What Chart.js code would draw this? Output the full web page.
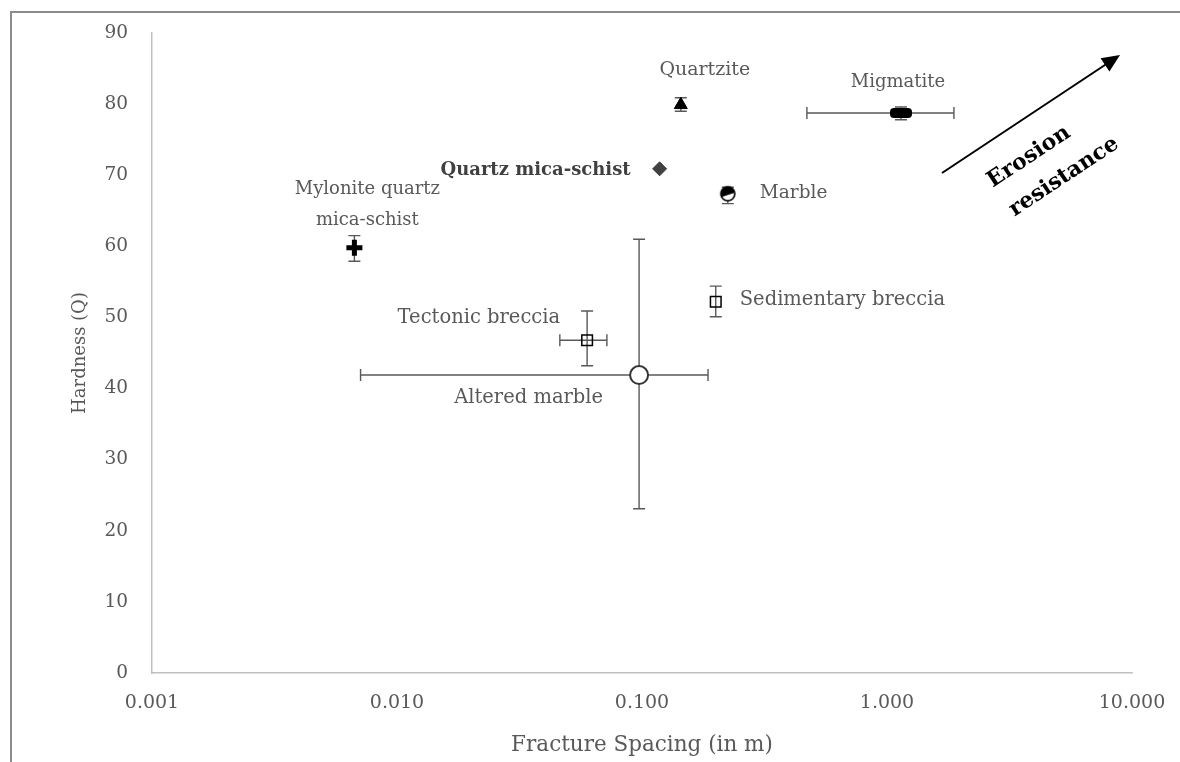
<!DOCTYPE html>
<html>
<head>
<meta charset="utf-8">
<script src="https://cdn.jsdelivr.net/npm/chart.js@4.4.1/dist/chart.umd.min.js"></script>
<style>
  html, body { margin: 0; padding: 0; background: #fff; }
  #wrap { position: relative; width: 1180px; height: 762px; overflow: hidden; }
  #frame { position: absolute; left: 10px; top: 11px; right: -5px; bottom: -5px;
           border-left: 2px solid #8c8c8c; border-top: 2px solid #8c8c8c; }
  canvas { position: absolute; left: 0; top: 0; }
</style>
</head>
<body>
<div id="wrap">
  <div id="frame"></div>
  <canvas id="rockChart" width="1180" height="762"></canvas>
</div>
<script>
// Rock types: fracture spacing (m) vs hardness (Q)
const rockLabels = [
  "Mylonite quartz\nmica-schist",
  "Quartz mica-schist",
  "Quartzite",
  "Migmatite",
  "Marble",
  "Sedimentary breccia",
  "Tectonic breccia",
  "Altered marble"
];
const spacing    = [0.0067, 0.118, 0.144, 1.14, 0.224, 0.200, 0.0597, 0.0973];
const spacingMin = [null,   null,  null,  0.471, null, null,  0.0462, 0.0071];
const spacingMax = [null,   null,  null,  1.876, null, null,  0.0719, 0.186];
const hardness    = [59.8, 70.9, 79.9, 78.75, 67.4, 52.2, 46.8, 41.9];
const hardnessMin = [57.9, null, 79.0, 77.8,  66.0, 50.1, 43.2, 23.1];
const hardnessMax = [61.5, null, 80.9, 79.6,  68.3, 54.4, 50.9, 61.0];
const xTicks = [0.001, 0.01, 0.1, 1, 10];

const FONT = "'DejaVu Serif', serif";
const GREY = "#595959";

// half-filled circle used for marble
const marbleIcon = document.createElement("canvas");
marbleIcon.width = 18; marbleIcon.height = 18;
(() => {
  const c = marbleIcon.getContext("2d");
  c.beginPath(); c.arc(9, 9, 7, 0, Math.PI * 2);
  c.fillStyle = "#fff"; c.fill();
  c.beginPath(); c.arc(9, 9, 7, Math.PI * 0.85, Math.PI * 1.95);
  c.closePath(); c.fillStyle = "#000"; c.fill();
  c.beginPath(); c.arc(9, 9, 7, 0, Math.PI * 2);
  c.lineWidth = 1.6; c.strokeStyle = "#000"; c.stroke();
})();

// rounded bar used for migmatite
const migmatiteIcon = document.createElement("canvas");
migmatiteIcon.width = 24; migmatiteIcon.height = 12;
(() => {
  const c = migmatiteIcon.getContext("2d");
  c.beginPath(); c.roundRect(1, 1, 22, 10, 4);
  c.fillStyle = "#000"; c.fill();
})();

const markerStyles = [
  { pointStyle: "cross", radius: 8, borderWidth: 5, borderColor: "#000", backgroundColor: "#000" },
  { pointStyle: "rectRot", radius: 7, borderWidth: 1, borderColor: "#404040", backgroundColor: "#404040" },
  { pointStyle: "triangle", radius: 7.5, borderWidth: 1, borderColor: "#000", backgroundColor: "#000" },
  { pointStyle: migmatiteIcon, radius: 10, borderWidth: 0, borderColor: "#000", backgroundColor: "#000" },
  { pointStyle: marbleIcon, radius: 9, borderWidth: 0, borderColor: "#000", backgroundColor: "#000" },
  { pointStyle: "rect", radius: 7.5, borderWidth: 1.5, borderColor: "#000", backgroundColor: "rgba(0,0,0,0)" },
  { pointStyle: "rect", radius: 7.5, borderWidth: 1.5, borderColor: "#000", backgroundColor: "rgba(0,0,0,0)" },
  { pointStyle: "circle", radius: 9, borderWidth: 2, borderColor: "#333", backgroundColor: "#fff" }
];

// label placement relative to each marker
const labelPlacement = [
  { dx: 13, dy: -58, align: "center", size: 18 },
  { dx: -29, dy: 2, align: "right", size: 18, bold: true },
  { dx: 24, dy: -35, align: "center", size: 19 },
  { dx: -3, dy: -31, align: "center", size: 18 },
  { dx: 32, dy: -1, align: "left", size: 18.5 },
  { dx: 24, dy: -2, align: "left", size: 19.5 },
  { dx: -27, dy: -22, align: "right", size: 19.5 },
  { dx: -36, dy: 23, align: "right", size: 19.5 }
];

const datasets = rockLabels.map((name, i) => ({
  label: name,
  data: [{ x: spacing[i], y: hardness[i] }],
  pointStyle: markerStyles[i].pointStyle,
  pointRadius: markerStyles[i].radius,
  pointBorderWidth: markerStyles[i].borderWidth,
  pointBorderColor: markerStyles[i].borderColor,
  pointBackgroundColor: markerStyles[i].backgroundColor,
  pointHoverRadius: markerStyles[i].radius
}));

const errorBars = {
  id: "errorBars",
  beforeDatasetsDraw(chart) {
    const { ctx, scales: { x, y } } = chart;
    const cap = 6;
    ctx.save();
    ctx.strokeStyle = GREY;
    ctx.lineWidth = 1.4;
    spacing.forEach((sx, i) => {
      const px = x.getPixelForValue(sx);
      const py = y.getPixelForValue(hardness[i]);
      ctx.beginPath();
      if (spacingMin[i] !== null) {
        const x1 = x.getPixelForValue(spacingMin[i]);
        const x2 = x.getPixelForValue(spacingMax[i]);
        ctx.moveTo(x1, py); ctx.lineTo(x2, py);
        ctx.moveTo(x1, py - cap); ctx.lineTo(x1, py + cap);
        ctx.moveTo(x2, py - cap); ctx.lineTo(x2, py + cap);
      }
      if (hardnessMin[i] !== null) {
        const y1 = y.getPixelForValue(hardnessMin[i]);
        const y2 = y.getPixelForValue(hardnessMax[i]);
        ctx.moveTo(px, y1); ctx.lineTo(px, y2);
        ctx.moveTo(px - cap, y1); ctx.lineTo(px + cap, y1);
        ctx.moveTo(px - cap, y2); ctx.lineTo(px + cap, y2);
      }
      ctx.stroke();
    });
    ctx.restore();
  }
};

const pointLabels = {
  id: "pointLabels",
  afterDatasetsDraw(chart) {
    const ctx = chart.ctx;
    ctx.save();
    ctx.textBaseline = "middle";
    rockLabels.forEach((text, i) => {
      const pt = chart.getDatasetMeta(i).data[0];
      const p = labelPlacement[i];
      ctx.font = (p.bold ? "bold " : "") + p.size + "px " + FONT;
      ctx.fillStyle = p.bold ? "#404040" : GREY;
      ctx.textAlign = p.align;
      text.split("\n").forEach((line, k) => {
        ctx.fillText(line, pt.x + p.dx, pt.y + p.dy + k * 31);
      });
    });
    ctx.restore();
  }
};

// "Erosion resistance" arrow in the upper right corner
const erosionArrow = {
  id: "erosionArrow",
  afterDraw(chart) {
    const { ctx, chartArea: a } = chart;
    const x0 = a.right - 190, y0 = a.top + 140;
    const x1 = a.right - 12, y1 = a.top + 22;
    const ang = Math.atan2(y1 - y0, x1 - x0);
    ctx.save();
    ctx.strokeStyle = "#000";
    ctx.lineWidth = 2;
    ctx.beginPath();
    ctx.moveTo(x0, y0);
    ctx.lineTo(x1 - 14 * Math.cos(ang), y1 - 14 * Math.sin(ang));
    ctx.stroke();
    ctx.translate(x1, y1);
    ctx.rotate(ang);
    ctx.beginPath();
    ctx.moveTo(0, 0); ctx.lineTo(-18, -8); ctx.lineTo(-18, 8); ctx.closePath();
    ctx.fillStyle = "#000"; ctx.fill();
    ctx.restore();

    const words = [["Erosion", -103, 124], ["resistance", -68, 144]];
    words.forEach(([w, ox, oy]) => {
      ctx.save();
      ctx.font = "bold 22px " + FONT;
      ctx.fillStyle = "#000";
      ctx.textAlign = "center";
      ctx.textBaseline = "middle";
      ctx.translate(a.right + ox, a.top + oy);
      ctx.rotate(ang);
      ctx.fillText(w, 0, 0);
      ctx.restore();
    });
  }
};

new Chart(document.getElementById("rockChart"), {
  type: "scatter",
  data: { datasets },
  options: {
    responsive: false,
    animation: false,
    layout: { padding: { top: 33, right: 48, left: 0, bottom: 0 } },
    plugins: {
      legend: { display: false },
      tooltip: { enabled: false }
    },
    scales: {
      x: {
        type: "logarithmic",
        min: 0.001,
        max: 10,
        afterBuildTicks: (scale) => { scale.ticks = xTicks.map(v => ({ value: v })); },
        afterFit: (scale) => { scale.height = 89; },
        grid: { display: false },
        border: { display: true, color: "#c0c0c0", width: 1.5 },
        ticks: {
          autoSkip: false,
          maxRotation: 0,
          padding: 11,
          color: GREY,
          font: { family: FONT, size: 19 },
          callback: (v) => Number(v).toFixed(3)
        },
        title: {
          display: true,
          text: "Fracture Spacing (in m)",
          color: GREY,
          font: { family: FONT, size: 21.5 },
          padding: { top: 0, bottom: 4 }
        }
      },
      y: {
        min: 0,
        max: 90,
        afterFit: (scale) => { scale.width = 152; },
        grid: { display: false },
        border: { display: true, color: "#c0c0c0", width: 1.5 },
        ticks: {
          stepSize: 10,
          padding: 16,
          color: GREY,
          font: { family: FONT, size: 18.5 }
        },
        title: {
          display: true,
          text: "Hardness (Q)",
          color: GREY,
          font: { family: FONT, size: 18 },
          padding: { top: 70, bottom: 0 }
        }
      }
    }
  },
  plugins: [errorBars, pointLabels, erosionArrow]
});
</script>
</body>
</html>
